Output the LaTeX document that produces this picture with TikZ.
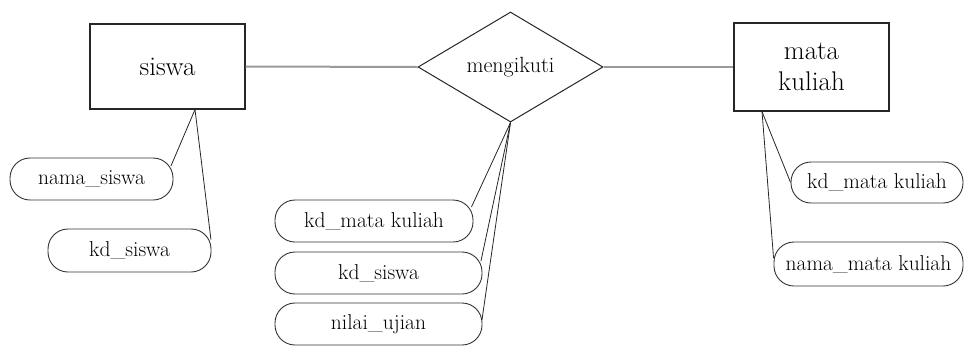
\documentclass[tikz,border=0pt]{standalone}
\usetikzlibrary{shapes.geometric}
\begin{document}
\begin{tikzpicture}[x=1pt,y=-1pt,
  entity/.style={draw=black!85, line width=1.1pt, rectangle, inner sep=0pt, align=center},
  relation/.style={draw=black!85, line width=1pt, diamond, shape aspect=1.68, inner sep=0pt,
    minimum width=185pt, minimum height=110pt, font=\fontsize{22}{26}\selectfont},
  attr/.style={draw=black!80, line width=0.9pt, rectangle, rounded corners=20pt, inner sep=0pt,
    font=\fontsize{21.5}{24}\selectfont},
  link/.style={draw=black!40, line width=2pt},
  attrline/.style={draw=black!85, line width=0.8pt}]
\useasboundingbox (0,0) rectangle (965,346);

\node[entity, minimum width=155pt, minimum height=85pt, font=\fontsize{27}{30}\selectfont] (siswa) at (167.5,66.5) {siswa};
\node[relation] (rel) at (510.5,67) {mengikuti};
\node[entity, minimum width=155pt, minimum height=88pt, font=\fontsize{27}{31}\selectfont] (mk) at (811.5,67) {mata\\[0pt]kuliah};

\node[attr, minimum width=163pt, minimum height=42pt] (ns) at (91.5,179) {nama\_siswa};
\node[attr, minimum width=163pt, minimum height=43pt] (ks) at (129.5,250.5) {kd\_siswa};

\node[attr, minimum width=198pt, minimum height=42pt] (rk) at (374,221) {kd\_mata kuliah};
\node[attr, minimum width=207pt, minimum height=42pt] (rs) at (378.5,273) {kd\_siswa};
\node[attr, minimum width=207pt, minimum height=42pt] (rn) at (378.5,324) {nilai\_ujian};

\node[attr, minimum width=172pt, minimum height=41pt] (mkk) at (877,182.5) {kd\_mata kuliah};
\node[attr, minimum width=189pt, minimum height=44pt] (mkn) at (868.5,264) {nama\_mata kuliah};

\draw[link] (siswa.east) -- (rel.west);
\draw[link] (rel.east) -- (mk.west);

\coordinate (sb) at ([xshift=27.5pt]siswa.south);
\draw[attrline] (sb) -- ([xshift=-2.5pt,yshift=13pt]ns.east);
\draw[attrline] (sb) -- ([xshift=-0.5pt,yshift=11pt]ks.east);

\draw[attrline] (rel.south) -- ([xshift=-2pt,yshift=14pt]rk.east);
\draw[attrline] (rel.south) -- ([xshift=-1.5pt,yshift=12pt]rs.east);
\draw[attrline] (rel.south) -- ([xshift=-0.5pt,yshift=4pt]rn.east);

\coordinate (mb) at ([xshift=-49.5pt]mk.south);
\draw[attrline] (mb) -- ([xshift=0pt,yshift=0pt]mkk.west);
\draw[attrline] (mb) -- ([xshift=0pt,yshift=6pt]mkn.west);
\end{tikzpicture}
\end{document}
